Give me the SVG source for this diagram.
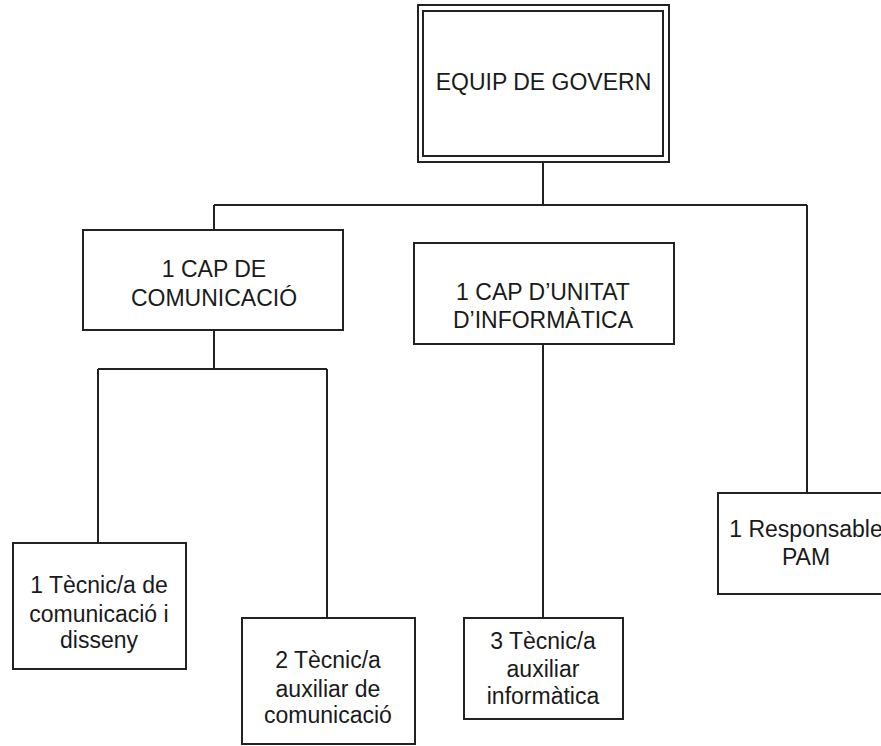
<svg xmlns="http://www.w3.org/2000/svg" width="881" height="746" viewBox="0 0 881 746">
<style>
.box{fill:#fff;stroke:#222;stroke-width:2}
.ln{fill:none;stroke:#222;stroke-width:2}
.t{font-family:"Liberation Sans",Arial,sans-serif;font-size:23px;fill:#1a1a1a;text-anchor:middle}
</style>
<rect width="881" height="746" fill="#fff"/>
<g id="connectors">
<path class="ln" d="M543 162V205M214 205H807M214 205V230M807 205V493"/>
<path class="ln" d="M214 330V369M98 369H327M98 369V543M327 369V618"/>
<path class="ln" d="M543 344V618"/>
</g>
<g id="equip">
<rect class="box" x="418" y="5" width="251" height="157"/>
<rect class="box" x="423" y="11" width="240" height="145"/>
<text class="t" x="543.5" y="90">EQUIP DE GOVERN</text>
</g>
<g id="cap-comunicacio">
<rect class="box" x="83" y="230" width="260" height="100"/>
<text class="t" x="214" y="277">1 CAP DE</text>
<text class="t" x="214" y="306">COMUNICACIÓ</text>
</g>
<g id="cap-informatica">
<rect class="box" x="414" y="243" width="260" height="101"/>
<text class="t" x="543" y="300">1 CAP D’UNITAT</text>
<text class="t" x="543" y="328">D’INFORMÀTICA</text>
</g>
<g id="tecnic-disseny">
<rect class="box" x="13" y="543" width="173" height="126"/>
<text class="t" x="99" y="593">1 Tècnic/a de</text>
<text class="t" x="99" y="622">comunicació i</text>
<text class="t" x="99" y="648">disseny</text>
</g>
<g id="tecnic-aux-comunicacio">
<rect class="box" x="242" y="618" width="173" height="126"/>
<text class="t" x="328" y="668">2 Tècnic/a</text>
<text class="t" x="328" y="697">auxiliar de</text>
<text class="t" x="328" y="723">comunicació</text>
</g>
<g id="tecnic-aux-informatica">
<rect class="box" x="464" y="618" width="159" height="101"/>
<text class="t" x="543" y="649">3 Tècnic/a</text>
<text class="t" x="543" y="677">auxiliar</text>
<text class="t" x="543" y="704">informàtica</text>
</g>
<g id="responsable-pam">
<rect class="box" x="718" y="493" width="180" height="101"/>
<text class="t" x="806" y="537">1 Responsable</text>
<text class="t" x="806" y="565">PAM</text>
</g>
</svg>
